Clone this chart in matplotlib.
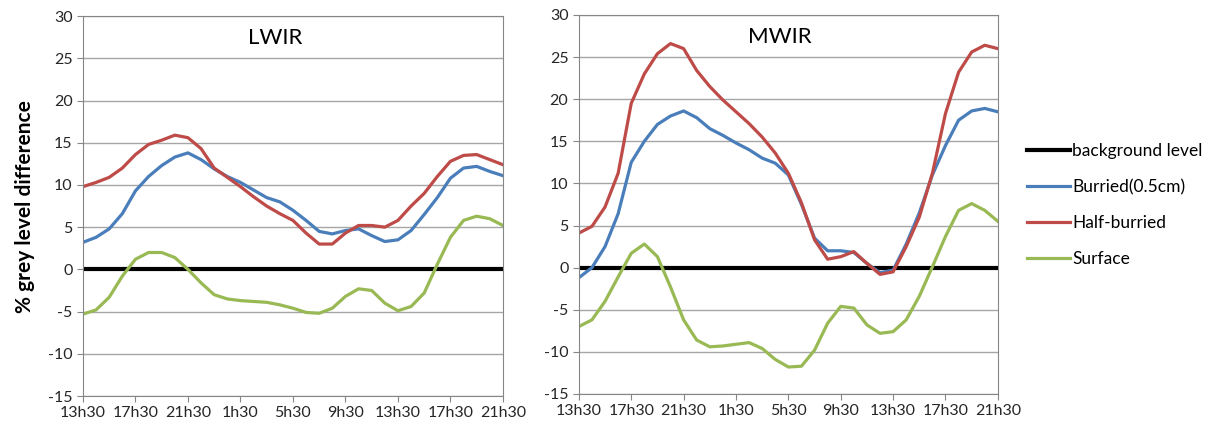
import matplotlib.pyplot as plt
import numpy as np

# hours since 13h30 on day 1 (one sample per hour)
hours = list(range(33))
tick_hours = [0, 4, 8, 12, 16, 20, 24, 28, 32]
tick_labels = ['13h30', '17h30', '21h30', '1h30', '5h30', '9h30', '13h30', '17h30', '21h30']

# LWIR
lwir_burried = [3.2, 3.8, 4.8, 6.6, 9.3, 11.0, 12.3, 13.3, 13.8, 13.0, 11.9, 11.0, 10.3, 9.4, 8.5, 8.0, 7.0,
                5.8, 4.5, 4.2, 4.6, 4.8, 4.0, 3.3, 3.5, 4.6, 6.5, 8.5, 10.8, 12.0, 12.2, 11.6, 11.1]
lwir_half = [9.8, 10.3, 10.9, 12.0, 13.6, 14.8, 15.3, 15.9, 15.6, 14.3, 12.0, 10.9, 9.8, 8.6, 7.5, 6.6, 5.8,
             4.3, 3.0, 3.0, 4.3, 5.2, 5.2, 5.0, 5.8, 7.5, 9.0, 11.0, 12.8, 13.5, 13.6, 13.0, 12.4]
lwir_surface = [-5.3, -4.8, -3.3, -0.8, 1.2, 2.0, 2.0, 1.4, 0.0, -1.6, -3.0, -3.5, -3.7, -3.8, -3.9, -4.2, -4.6,
                -5.1, -5.2, -4.6, -3.2, -2.3, -2.5, -4.0, -4.9, -4.4, -2.8, 0.6, 3.8, 5.8, 6.3, 6.0, 5.2]

# MWIR
mwir_burried = [-1.2, 0.0, 2.5, 6.4, 12.5, 15.0, 17.0, 18.0, 18.6, 17.8, 16.5, 15.7, 14.8, 14.0, 13.0, 12.4, 11.0,
                7.5, 3.5, 2.0, 2.0, 1.8, 0.5, -0.6, -0.3, 2.8, 6.5, 11.0, 14.5, 17.5, 18.6, 18.9, 18.5]
mwir_half = [4.1, 4.9, 7.2, 11.2, 19.5, 23.0, 25.4, 26.6, 26.0, 23.4, 21.5, 19.9, 18.5, 17.1, 15.5, 13.6, 11.2,
             7.7, 3.3, 1.0, 1.3, 1.9, 0.5, -0.8, -0.5, 2.5, 6.0, 11.2, 18.3, 23.2, 25.6, 26.4, 26.0]
mwir_surface = [-7.0, -6.2, -4.0, -1.1, 1.7, 2.8, 1.3, -2.3, -6.2, -8.6, -9.4, -9.3, -9.1, -8.9, -9.6, -10.9, -11.8,
                -11.7, -9.8, -6.6, -4.6, -4.8, -6.8, -7.8, -7.6, -6.2, -3.4, 0.1, 3.7, 6.8, 7.6, 6.8, 5.5]

plt.rcParams['font.family'] = ['Lato', 'DejaVu Sans']
plt.rcParams['axes.unicode_minus'] = False

fig = plt.figure(figsize=(12.11, 4.24), dpi=100)
ax1 = fig.add_axes([0.0685, 0.066, 0.3468, 0.896])
ax2 = fig.add_axes([0.478, 0.0708, 0.346, 0.894])


def draw(ax, title, tx, burried, half, surface):
    ax.set_xlim(0, 32)
    ax.set_ylim(-15, 30)
    ax.set_yticks(range(-15, 31, 5))
    ax.set_xticks(tick_hours)
    ax.set_xticklabels(tick_labels)
    ax.grid(axis='y', color='#a6a6a6', lw=1)
    ax.set_axisbelow(True)
    for s in ax.spines.values():
        s.set_color('#868686')
    ax.tick_params(colors='#868686', labelcolor='#262626', labelsize=11.5, length=4)
    ax.axhline(0, color='black', lw=3, label='background level')
    ax.plot(hours, burried, color='#4a7ebb', lw=2.3, label='Burried(0.5cm)')
    ax.plot(hours, half, color='#be4b48', lw=2.3, label='Half-burried')
    ax.plot(hours, surface, color='#98b954', lw=2.3, label='Surface')
    ax.text(tx, 0.942, title, transform=ax.transAxes, ha='center', va='center', fontsize=16)


draw(ax1, 'LWIR', 0.457, lwir_burried, lwir_half, lwir_surface)
draw(ax2, 'MWIR', 0.48, mwir_burried, mwir_half, mwir_surface)
ax1.set_ylabel('% grey level difference', fontsize=15, fontweight='bold', labelpad=9)

h, l = ax1.get_legend_handles_labels()
fig.legend(h, l, loc='upper left', bbox_to_anchor=(1027 / 1211, 1 - 143 / 424), frameon=False,
           fontsize=12.5, handlelength=2.5, handletextpad=0.1, labelspacing=1.15, borderpad=0, borderaxespad=0)

fig.savefig('out.png', dpi=100)
